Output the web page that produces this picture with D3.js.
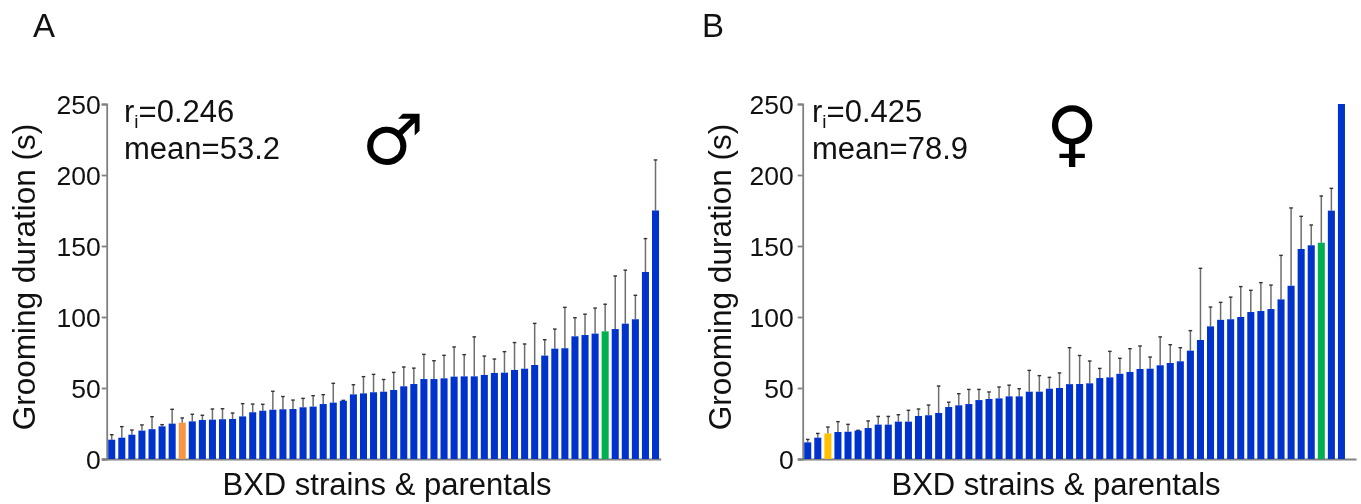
<!DOCTYPE html>
<html>
<head>
<meta charset="utf-8">
<script src="https://cdn.jsdelivr.net/npm/d3@7"></script>
<style>
  html, body { margin: 0; padding: 0; background: #fff; }
  svg { display: block; filter: blur(0.45px); }
  text { font-family: "Liberation Sans", Arial, sans-serif; fill: #111; }
</style>
</head>
<body>
<svg id="chart"></svg>
<script>
const width = 1361;
const height = 504;

const yTicks = [0, 50, 100, 150, 200, 250];

// males, sorted
const maleMeans = [13.6, 15, 17.1, 20, 21, 23, 24.9, 25.6, 26.5, 27.5, 27.7, 28, 28.2, 30, 32.9, 34, 34.7, 35, 35.2,
  36.4, 36.9, 38.7, 39.7, 41, 45.5, 46.2, 47, 47.4, 48.6, 51.2, 52.8, 56.3, 56.3, 56.8, 58, 58.2, 58.2, 59.2, 60.6,
  60.8, 62.7, 63.6, 66.2, 72.8, 77.7, 78, 86.4, 87.3, 88.3, 89.9, 91.5, 95.3, 98.4, 131.7, 175];
const maleErrTops = [17.1, 22.8, 20.4, 24, 29.8, 24.2, 35, 28.9, 31.5, 30.8, 35.2, 35.4, 32.4, 39, 38.7, 38.5, 47.7, 44,
  41.5, 42.7, 44.6, 45.3, 53.3, 41.3, 52.3, 58, 59.6, 56, 61, 64.8, 64, 73.7, 69.2, 73, 78.9, 73.5, 86, 72.5, 70.4,
  75.6, 82, 81, 95.5, 84, 91.5, 106.8, 99.5, 102, 106.3, 109, 128.9, 133, 115.3, 155.2, 210.6];

// females, sorted. last strain runs off the top of the axis, no whisker visible
const femaleMeans = [11.7, 15, 18, 19, 19.2, 20, 21.8, 24.2, 24.2, 26.3, 26.3, 30.3, 30.8, 32.4, 36.6, 37.8, 38.7, 41.5,
  42.3, 42.7, 44.1, 44.1, 47.4, 47.4, 49.5, 50, 52.7, 52.8, 53.3, 57, 57.5, 60, 61.3, 63.4, 63.6, 66, 67.6, 68.8, 76.3,
  83.8, 93.4, 98, 98.4, 100, 103.5, 104.2, 105.6, 112.4, 122, 147.9, 150.5, 152.3, 174.9, 250];
const femaleErrTops = [13.8, 18, 22.5, 26.3, 24.4, 20.2, 26.8, 30, 30, 31.2, 34.3, 35.2, 38, 51.4, 40, 46, 49, 49,
  47.2, 50.7, 52, 49.5, 62.4, 58.7, 57.5, 60.6, 78.4, 72.9, 69, 63.8, 75.8, 70.9, 77.7, 79.6, 71.8, 86, 80.5, 78.4, 90.4,
  134.3, 107, 110.3, 114, 121.4, 118.8, 124.2, 122.5, 143.4, 176.8, 170.9, 164.8, 185.2, 190.6, null];

const barBlue = "#0033cc";
const axisGray = "#808080";

const svg = d3.select("#chart").attr("width", width).attr("height", height);

function drawPanel(cfg) {
  const g = svg.append("g");
  const y = d3.scaleLinear().domain([0, 250]).range([459, 104]);
  const x = d3.scaleBand()
    .domain(d3.range(cfg.means.length))
    .range([cfg.axisX, cfg.axisX + cfg.means.length * 10.07])
    .paddingInner(0.3)
    .paddingOuter(0.15);

  const yAxis = d3.axisLeft(y).tickValues(yTicks).tickSize(5).tickPadding(cfg.tickPad);
  const yG = g.append("g").attr("transform", `translate(${cfg.axisX},0)`).call(yAxis);
  yG.selectAll("path, line").attr("stroke", axisGray).attr("stroke-width", 1.8);
  yG.selectAll("text")
    .attr("font-size", 26.5)
    .attr("dy", "0.36em")
    .attr("font-family", '"Liberation Sans", Arial, sans-serif')
    .attr("fill", "#111");

  // baseline runs a bit past the last bar
  const xAxis = d3.axisBottom(d3.scaleLinear().domain([0, 1]).range([cfg.axisX - 5, cfg.lineEnd])).tickValues([]).tickSize(0);
  const xG = g.append("g").attr("transform", "translate(0,459)").call(xAxis);
  xG.select("path").attr("stroke", axisGray).attr("stroke-width", 1.8);

  const cx = i => x(i) + x.bandwidth() / 2;
  const whiskers = d3.range(cfg.means.length).filter(i => cfg.errTops[i] !== null);

  g.selectAll("line.err").data(whiskers).enter().append("line")
    .attr("class", "err")
    .attr("x1", cx).attr("x2", cx)
    .attr("y1", i => y(cfg.means[i]))
    .attr("y2", i => y(cfg.errTops[i]))
    .attr("stroke", "#6e6e6e")
    .attr("stroke-width", 1.5);

  g.selectAll("line.cap").data(whiskers).enter().append("line")
    .attr("class", "cap")
    .attr("x1", i => cx(i) - 1.8).attr("x2", i => cx(i) + 1.8)
    .attr("y1", i => y(cfg.errTops[i]))
    .attr("y2", i => y(cfg.errTops[i]))
    .attr("stroke", "#333")
    .attr("stroke-width", 1.4);

  g.selectAll("rect.bar").data(cfg.means).enter().append("rect")
    .attr("class", "bar")
    .attr("x", (d, i) => x(i))
    .attr("width", x.bandwidth())
    .attr("y", d => y(d))
    .attr("height", d => y(0) - y(d))
    .attr("fill", (d, i) => cfg.colors[i] || barBlue);

  g.append("text").attr("x", cfg.letterX).attr("y", 37).attr("font-size", 33).text(cfg.letter);

  g.append("text")
    .attr("transform", `translate(${cfg.yLabelX},277) rotate(-90)`)
    .attr("text-anchor", "middle")
    .attr("font-size", 31.5)
    .text("Grooming duration (s)");

  g.append("text").attr("x", cfg.xLabelX).attr("y", 495).attr("text-anchor", "middle").attr("font-size", 31)
    .text("BXD strains & parentals");

  const ri = g.append("text").attr("x", cfg.statX).attr("y", 122).attr("font-size", 31);
  ri.append("tspan").text("r");
  ri.append("tspan").attr("font-size", 19).attr("dy", 6).text("i");
  ri.append("tspan").attr("dy", -6).text("=" + cfg.ri);
  g.append("text").attr("x", cfg.statX).attr("y", 159).attr("font-size", 31).text("mean=" + cfg.mean);

  g.append("text")
    .attr("x", cfg.symbolX).attr("y", cfg.symbolY)
    .attr("text-anchor", "middle")
    .attr("font-size", cfg.symbolSize)
    .style("font-family", '"DejaVu Sans"')
    .style("fill", "#000")
    .text(cfg.symbol);
}

drawPanel({
  letter: "A", letterX: 33, axisX: 106.7, lineEnd: 660.7, tickPad: 1, yLabelX: 35, xLabelX: 387,
  means: maleMeans, errTops: maleErrTops, colors: { 7: "#f79646", 49: "#00b050" },
  statX: 124, ri: "0.246", mean: "53.2",
  symbol: "\u2642", symbolX: 393, symbolY: 164, symbolSize: 70
});

drawPanel({
  letter: "B", letterX: 702, axisX: 802.7, lineEnd: 1356, tickPad: 4, yLabelX: 731, xLabelX: 1056,
  means: femaleMeans, errTops: femaleErrTops, colors: { 2: "#ffc000", 51: "#00b050" },
  statX: 812, ri: "0.425", mean: "78.9",
  symbol: "\u2640", symbolX: 1072, symbolY: 158, symbolSize: 72
});
</script>
</body>
</html>
